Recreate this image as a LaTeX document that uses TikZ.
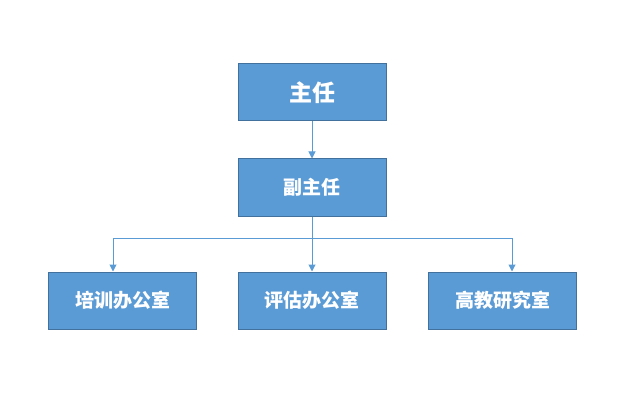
\documentclass[tikz,border=0pt]{standalone}
\usepackage{fontspec}
\newfontfamily\cjk{Noto Sans CJK SC}
\usetikzlibrary{arrows.meta}
\definecolor{boxfill}{HTML}{5B9BD5}
\definecolor{boxline}{HTML}{41719C}
\begin{document}
\begin{tikzpicture}[x=1pt,y=-1pt,
  orgbox/.style={draw=boxline,fill=boxfill,line width=1pt,minimum width=148pt,minimum height=57pt,inner sep=0pt,text=white,font=\cjk\bfseries\fontsize{19}{22}\selectfont},
  link/.style={draw=boxfill,line width=1pt,-{Triangle[length=7pt,width=7pt]}}]
\useasboundingbox (0,0) rectangle (634,406);
\node[orgbox,font=\cjk\bfseries\fontsize{23}{26}\selectfont] (zr) at (312,92.5) {主任};
\node[orgbox] (fzr) at (312,187.5) {副主任};
\node[orgbox] (px) at (122.5,300.5) {培训办公室};
\node[orgbox] (pg) at (312,300.5) {评估办公室};
\node[orgbox] (gj) at (502.5,300.5) {高教研究室};
\coordinate (j) at (312,238);
\draw[link] (zr) -- (fzr);
\draw[link] (fzr) -- (pg);
\draw[link] (fzr.south) -- (j) -| ([xshift=-9.5pt]px.north);
\draw[link] (j) -| ([xshift=9.5pt]gj.north);
\end{tikzpicture}
\end{document}
